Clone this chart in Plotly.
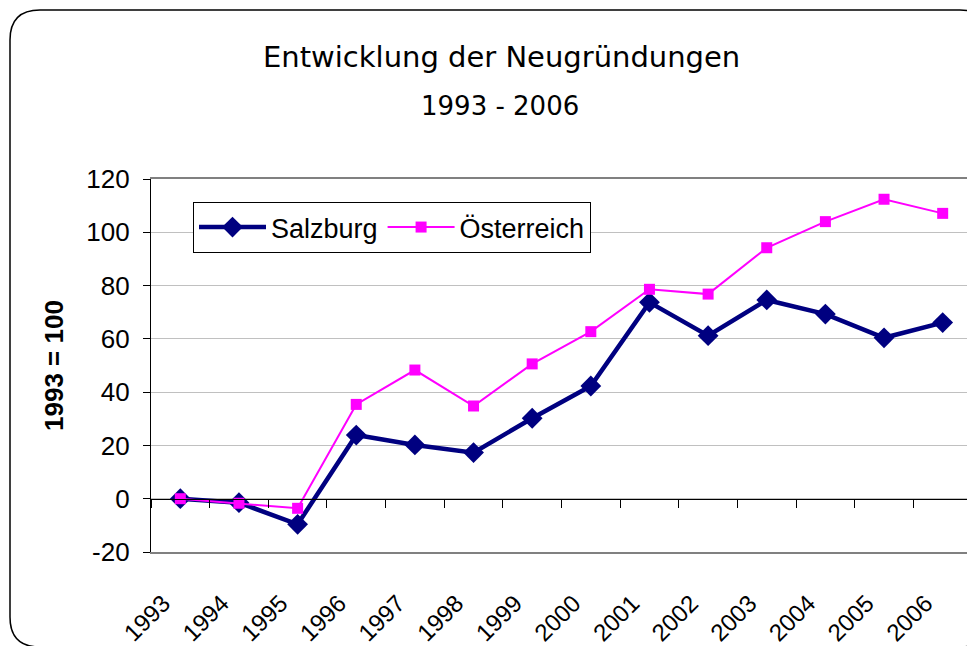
import plotly.graph_objects as go

# ---- data ----
years = ["1993", "1994", "1995", "1996", "1997", "1998", "1999",
         "2000", "2001", "2002", "2003", "2004", "2005", "2006"]
salzburg = [0, -1.5, -9.6, 23.9, 20.2, 17.3, 30.2, 42.3, 73.7, 61.2, 74.6, 69.3, 60.4, 66.1]
oesterreich = [0, -1.7, -3.6, 35.4, 48.3, 34.8, 50.6, 62.7, 78.6, 76.8, 94.2, 104.0, 112.4, 107.1]
y_range = [-20, 120]
y_ticks = [-20, 0, 20, 40, 60, 80, 100, 120]
y_ticklabels = ["-20", "0", "20", "40", "60", "80", "100", "120"]

title_text = "Entwicklung der Neugründungen"
subtitle_text = "1993 - 2006"
y_title = "1993 = 100"

# ---- layout geometry (page body has an 8px margin) ----
OFF = 8
W, H = 975 - OFF, 646 - OFF
ML, MR, MT, MB = 151 - OFF, 3, 179 - OFF, 94
PW, PH = W - ML - MR, H - MT - MB


def px(x):
    return (x - OFF - ML) / PW


def py(y):
    return (H - MB - (y - OFF)) / PH


idx = list(range(len(years)))
x_range = [-0.5, len(years) - 0.5]
boundaries = [i - 0.5 for i in range(len(years) + 1)]
zero_pos = (0 - y_range[0]) / (y_range[1] - y_range[0])

FONT = "Liberation Sans, Arial, sans-serif"

fig = go.Figure()
fig.add_trace(go.Scatter(
    x=idx, y=salzburg, name="Salzburg", mode="lines+markers",
    line=dict(color="#000080", width=4.5),
    marker=dict(symbol="diamond", size=16, color="#000080"),
))
fig.add_trace(go.Scatter(
    x=idx, y=oesterreich, name="Österreich", mode="lines+markers",
    line=dict(color="#FF00FF", width=2),
    marker=dict(symbol="square", size=11, color="#FF00FF"),
))

# rounded outer border
x0, x1, y0, y1, r = 10, 990, 10, 647, 30
pts = [
    ("M", (x0 + r, y0)), ("L", (x1 - r, y0)), ("Q", (x1, y0), (x1, y0 + r)),
    ("L", (x1, y1 - r)), ("Q", (x1, y1), (x1 - r, y1)),
    ("L", (x0 + r, y1)), ("Q", (x0, y1), (x0, y1 - r)),
    ("L", (x0, y0 + r)), ("Q", (x0, y0), (x0 + r, y0)),
]
path = ""
for item in pts:
    cmd = item[0]
    path += cmd + " " + " ".join(f"{px(p[0]):.5f},{py(p[1]):.5f}" for p in item[1:]) + " "
path += "Z"

shapes = [
    dict(type="path", path=path, xref="paper", yref="paper",
         line=dict(color="black", width=1.5), layer="above"),
    dict(type="line", xref="paper", yref="paper", x0=1, x1=1, y0=0, y1=1,
         line=dict(color="#808080", width=1.5)),
]

annotations = [
    dict(text=title_text, xref="paper", yref="paper", x=px(501), y=py(57),
         xanchor="center", yanchor="middle", showarrow=False,
         font=dict(family="DejaVu Sans, sans-serif", size=29, color="black")),
    dict(text=subtitle_text, xref="paper", yref="paper", x=px(500), y=py(106),
         xanchor="center", yanchor="middle", showarrow=False,
         font=dict(family="DejaVu Sans, sans-serif", size=26, color="black")),
    dict(text="<b>" + y_title + "</b>", xref="paper", yref="paper", x=px(54), y=py(366),
         xanchor="center", yanchor="middle", showarrow=False, textangle=-90,
         font=dict(family=FONT, size=26, color="black")),
]

fig.update_layout(
    width=W, height=H,
    margin=dict(l=ML, r=MR, t=MT, b=MB, autoexpand=False),
    paper_bgcolor="white", plot_bgcolor="white",
    font=dict(family=FONT, color="black"),
    showlegend=True,
    legend=dict(
        orientation="h", x=px(193), y=py(202), xanchor="left", yanchor="top",
        bgcolor="white", bordercolor="black", borderwidth=1,
        itemwidth=67,
        font=dict(family=FONT, size=27, color="black"),
    ),
    xaxis=dict(
        range=x_range, tickmode="array", tickvals=idx, ticktext=years,
        tickangle=-45, tickfont=dict(family=FONT, size=24, color="black"),
        ticklabelshift=-17,
        showgrid=False, zeroline=False,
        showline=True, linecolor="#808080", linewidth=1.5, mirror=True,
        ticks="outside", ticklen=26, tickcolor="rgba(0,0,0,0)",
    ),
    xaxis2=dict(
        overlaying="x", anchor="free", position=zero_pos, side="bottom",
        range=x_range, tickmode="array", tickvals=boundaries,
        showticklabels=False, showgrid=False, zeroline=False,
        showline=True, linecolor="black", linewidth=1.2,
        ticks="outside", ticklen=8, tickcolor="black", tickwidth=1,
    ),
    yaxis=dict(
        range=y_range, tickmode="array", tickvals=y_ticks, ticktext=y_ticklabels,
        tickfont=dict(family=FONT, size=26, color="black"),
        showgrid=True, gridcolor="#c0c0c0", gridwidth=1, zeroline=False,
        showline=True, linecolor="black", linewidth=1.2,
        ticks="outside", ticklen=7, tickcolor="black",
        ticklabelstandoff=8,
    ),
    shapes=shapes,
    annotations=annotations,
)

# invisible trace so the overlay axis renders
fig.add_trace(go.Scatter(x=[idx[0]], y=[0], xaxis="x2", mode="markers",
                         marker=dict(opacity=0), showlegend=False, hoverinfo="skip"))

fig.write_html("out.html")
